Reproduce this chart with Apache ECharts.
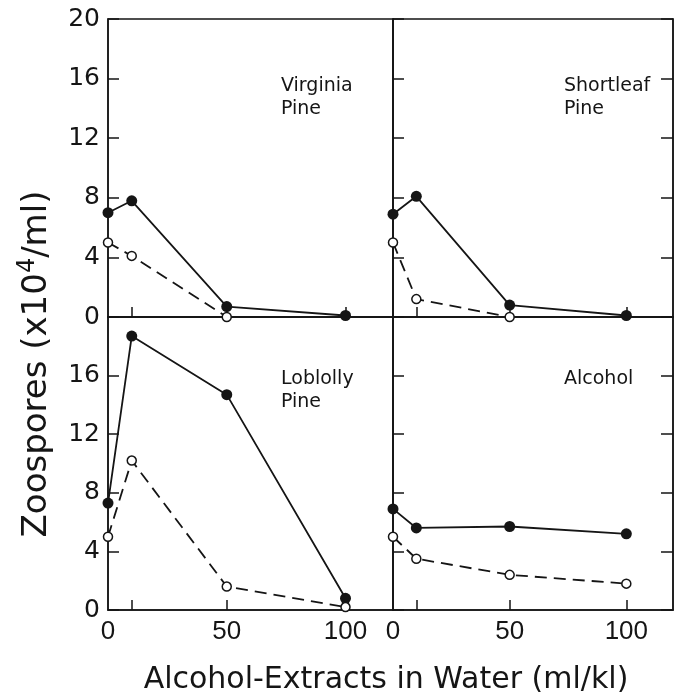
<!DOCTYPE html>
<html lang="en">
<head>
    <meta charset="UTF-8">
    <title>Zoospores</title>
    <script src="https://cdn.jsdelivr.net/npm/echarts@6/dist/echarts.min.js"></script>
    <style>
        body { margin: 0; background: #fff; }
        #chart { width: 682px; height: 695px; }
    </style>
</head>
<body>
    <div id="chart"></div>
    <script>
        // extract concentration (ml/kl)
        var xVals = [0, 10, 50, 100];
        var xLabels = [0, 50, 100];
        var yLabels = [0, 4, 8, 12, 16, 20];

        // zoospores x10^4/ml, filled = solid line, open = dashed line
        var virginiaSolid = [7.0, 7.8, 0.7, 0.1];
        var virginiaOpen = [5.0, 4.1, 0];
        var shortleafSolid = [6.9, 8.1, 0.8, 0.1];
        var shortleafOpen = [5.0, 1.2, 0];
        var loblollySolid = [7.3, 18.7, 14.7, 0.8];
        var loblollyOpen = [5.0, 10.2, 1.6, 0.2];
        var alcoholSolid = [6.9, 5.6, 5.7, 5.2];
        var alcoholOpen = [5.0, 3.5, 2.4, 1.8];

        var panelNames = ['Virginia\nPine', 'Shortleaf\nPine', 'Loblolly\nPine', 'Alcohol'];

        var ink = '#151515';
        var font = '"DejaVu Sans", sans-serif';
        var numFont = '"Liberation Sans", Arial, sans-serif';

        function pairs(vals) {
            return vals.map(function (v, i) { return [xVals[i], v]; });
        }

        var grids = [
            {left: 108, top: 19, width: 285, height: 298},
            {left: 393, top: 19, width: 280, height: 298},
            {left: 108, top: 317, width: 285, height: 293},
            {left: 393, top: 317, width: 280, height: 293}
        ];
        grids.forEach(function (g) {
            g.show = true;
            g.borderColor = ink;
            g.borderWidth = 1.5;
            g.backgroundColor = 'transparent';
        });

        var xAxes = [], yAxes = [], series = [];
        for (var i = 0; i < 4; i++) {
            xAxes.push({
                gridIndex: i,
                type: 'value',
                min: 0,
                max: 120,
                axisLine: {show: true, lineStyle: {color: ink, width: 1.5}},
                axisTick: {show: true, inside: true, length: 10, customValues: [10, 50, 100],
                    lineStyle: {color: ink, width: 1.5}},
                axisLabel: {show: i >= 2, customValues: xLabels, margin: 9,
                    color: ink, fontSize: 26, fontFamily: numFont},
                splitLine: {show: false}
            });
        }
        for (var j = 0; j < 4; j++) {
            yAxes.push({
                gridIndex: j,
                type: 'value',
                position: 'left',
                min: 0,
                max: 20,
                interval: 4,
                axisLine: {show: true, lineStyle: {color: ink, width: 1.5}},
                axisTick: {show: true, inside: true, length: 11, lineStyle: {color: ink, width: 1.5}},
                axisLabel: {
                    show: j % 2 === 0,
                    margin: 8,
                    color: ink, fontSize: 25, fontFamily: font,
                    formatter: (function (idx) {
                        return function (v) { return (idx === 2 && v === 20) ? '' : String(v); };
                    })(j)
                },
                splitLine: {show: false}
            });
        }
        // right edge ticks for right-hand panels
        [1, 3].forEach(function (g) {
            yAxes.push({
                gridIndex: g,
                type: 'value',
                position: 'right',
                min: 0,
                max: 20,
                interval: 4,
                axisLine: {show: true, lineStyle: {color: ink, width: 1.5}},
                axisTick: {show: true, inside: true, length: 12, lineStyle: {color: ink, width: 1.5}},
                axisLabel: {show: false},
                splitLine: {show: false}
            });
        });

        var solidSets = [virginiaSolid, shortleafSolid, loblollySolid, alcoholSolid];
        var openSets = [virginiaOpen, shortleafOpen, loblollyOpen, alcoholOpen];

        for (var k = 0; k < 4; k++) {
            series.push({
                type: 'line',
                xAxisIndex: k,
                yAxisIndex: k,
                data: pairs(solidSets[k]),
                symbol: 'circle',
                symbolSize: 11,
                clip: false,
                lineStyle: {color: ink, width: 1.8},
                itemStyle: {color: ink},
                z: 3
            });
            series.push({
                type: 'line',
                xAxisIndex: k,
                yAxisIndex: k,
                data: pairs(openSets[k]),
                symbol: 'circle',
                symbolSize: 9,
                clip: false,
                lineStyle: {color: ink, width: 1.8, type: [12, 7]},
                itemStyle: {color: '#fff', borderColor: ink, borderWidth: 1.5},
                z: 4
            });
        }

        var labelPos = [[281, 75], [564, 75], [281, 368], [564, 368]];
        var graphics = labelPos.map(function (p, i) {
            return {
                type: 'text',
                left: p[0],
                top: p[1],
                style: {text: panelNames[i], fill: ink, font: '19px ' + font, lineHeight: 23}
            };
        });
        graphics.push({
            type: 'text',
            x: 37,
            y: 364,
            rotation: Math.PI / 2,
            style: {
                text: 'Zoospores (x10{sup|4}/ml)',
                fill: ink,
                font: '34px ' + font,
                align: 'center',
                verticalAlign: 'middle',
                rich: {sup: {fontSize: 24, verticalAlign: 'top', padding: [0, 0, 18, 0], fill: ink, fontFamily: font}}
            }
        });
        graphics.push({
            type: 'text',
            x: 386,
            y: 680,
            style: {
                text: 'Alcohol-Extracts in Water (ml/kl)',
                fill: ink,
                font: '30px ' + font,
                align: 'center',
                verticalAlign: 'middle'
            }
        });

        var chart = echarts.init(document.getElementById('chart'));
        chart.setOption({
            animation: false,
            backgroundColor: '#fff',
            grid: grids,
            xAxis: xAxes,
            yAxis: yAxes,
            series: series,
            graphic: graphics
        });
    </script>
</body>
</html>
